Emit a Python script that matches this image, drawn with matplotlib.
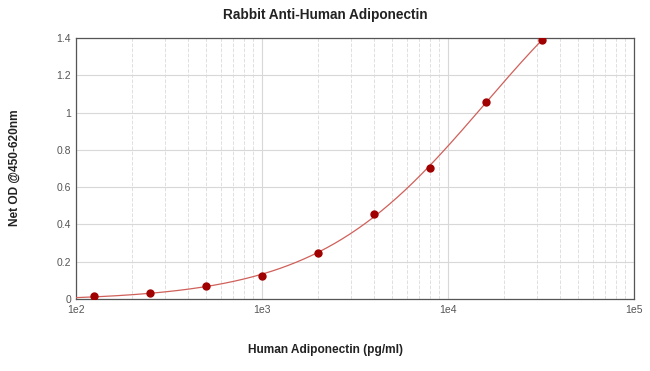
import numpy as np
import matplotlib.pyplot as plt
from matplotlib.ticker import FixedLocator, LogLocator, NullFormatter

plt.rcParams['font.family'] = ['Liberation Sans', 'DejaVu Sans']

# data
conc = [125, 250, 500, 1000, 2000, 4000, 8000, 16000, 32000]
od = [0.016, 0.03, 0.07, 0.123, 0.247, 0.456, 0.703, 1.057, 1.39]
xticks = [1e2, 1e3, 1e4, 1e5]
xtick_labels = ['1e2', '1e3', '1e4', '1e5']
yticks = [0, 0.2, 0.4, 0.6, 0.8, 1, 1.2, 1.4]
ytick_labels = ['0', '0.2', '0.4', '0.6', '0.8', '1', '1.2', '1.4']


# 4 parameter logistic fit: grid over slope b and midpoint c,
# bottom a and top d solved by least squares
def fit_4pl(x, y):
    x = np.asarray(x, float)
    y = np.asarray(y, float)
    best = None
    for b in np.linspace(0.5, 2.5, 81):
        for logc in np.linspace(3, 6, 121):
            s = 1 / (1 + (10 ** logc / x) ** b)
            A = np.column_stack([np.ones_like(x), s])
            p, *_ = np.linalg.lstsq(A, y, rcond=None)
            err = np.sum((A @ p - y) ** 2)
            if best is None or err < best[0]:
                best = (err, b, 10 ** logc, p)
    return best[1:]


b, c, p = fit_4pl(conc, od)
xs = np.logspace(2, np.log10(conc[-1]), 300)
ys = p[0] + p[1] / (1 + (c / xs) ** b)

fig = plt.figure(figsize=(6.5, 3.71), dpi=100)
ax = fig.add_axes([76 / 650, 1 - 299 / 371, (634 - 76) / 650, (299 - 38) / 371])

ax.plot(xs, ys, color='#d0605a', lw=0.9, zorder=3)
ax.plot(conc, od, 'o', color='#a00000', ms=5, zorder=4)

ax.set_xscale('log')
ax.set_xlim(100, 1e5)
ax.set_ylim(0, 1.4)
ax.xaxis.set_major_locator(FixedLocator(xticks))
ax.set_xticklabels(xtick_labels)
ax.xaxis.set_minor_locator(LogLocator(base=10, subs=np.arange(2, 10)))
ax.xaxis.set_minor_formatter(NullFormatter())
ax.set_yticks(yticks)
ax.set_yticklabels(ytick_labels)

ax.grid(True, which='major', color='#d8d8d8', lw=0.8)
ax.grid(True, which='minor', axis='x', color='#e0e0e0', lw=0.7, ls='--')
ax.set_axisbelow(True)

ax.tick_params(which='both', length=0, labelsize=7.5, colors='#555555')
ax.tick_params(axis='x', pad=4)
for s in ax.spines.values():
    s.set_color('#555555')
    s.set_linewidth(0.9)

fig.text(0.5, 1 - 15 / 371, 'Rabbit Anti-Human Adiponectin', ha='center', va='center',
         fontsize=9.8, fontweight='bold', color='#222222')
fig.text(0.5, 1 - 350 / 371, 'Human Adiponectin (pg/ml)', ha='center', va='center',
         fontsize=8.6, fontweight='bold', color='#222222')
fig.text(15 / 650, 1 - 168 / 371, 'Net OD @450-620nm', ha='center', va='center',
         rotation=90, fontsize=8.6, fontweight='bold', color='#222222')

fig.savefig('out.png', dpi=100)
